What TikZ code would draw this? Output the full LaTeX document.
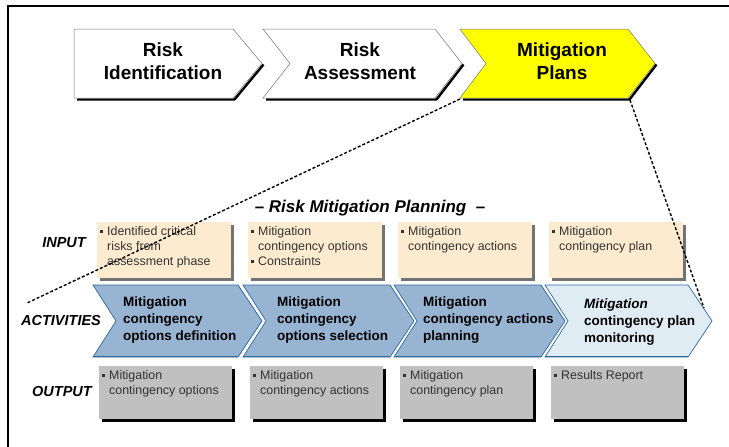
\documentclass[tikz,border=0pt]{standalone}
\usepackage{fontspec}
\setmainfont{Liberation Sans}
\usetikzlibrary{positioning,shadows}
\definecolor{planyellow}{HTML}{FFFF00}
\definecolor{chevblue}{HTML}{98B4D3}
\definecolor{chevlight}{HTML}{E0ECF4}
\definecolor{chevedge}{HTML}{2D6A9E}
\definecolor{inputfill}{HTML}{FCEBCF}
\definecolor{outputfill}{HTML}{C0C0C0}
\newcommand{\bul}{\rule[2.5pt]{3pt}{3pt}}

\begin{document}
\begin{tikzpicture}[x=1pt, y=-1pt,
  topchev/.style={draw=black!55, line width=0.5pt},
  chevshadow/.style={line width=2.4pt, line join=round},
  toptext/.style={align=center, font=\fontsize{19}{23}\selectfont\bfseries},
  acttext/.style={anchor=west, align=left, inner sep=0pt, font=\fontsize{13.5}{17}\selectfont\bfseries},
  rowlabel/.style={font=\fontsize{14.5}{17}\selectfont\bfseries\itshape},
  inbox/.style={fill=inputfill, anchor=north west, minimum width=134pt, minimum height=56pt, inner sep=0pt,
    drop shadow={shadow xshift=3pt, shadow yshift=-3pt, fill=black!55, opacity=1}},
  outbox/.style={fill=outputfill, anchor=north west, minimum width=133pt, minimum height=53pt, inner sep=0pt,
    drop shadow={shadow xshift=3pt, shadow yshift=-3pt, fill=black, opacity=1}},
  boxtext/.style={anchor=north west, inner sep=0pt, text=black!80, font=\fontsize{12.4}{15}\selectfont},
  zoomline/.style={line width=1.4pt, dash pattern=on 3pt off 2pt}]
\useasboundingbox (0,0) rectangle (729,447);
% frame
\draw[line width=2pt] (8,447) -- (8,6) -- (729,6);

% process chevrons
\draw[chevshadow] (77,99.5) -- (234.5,99.5) -- (263.5,64.5);
\draw[topchev, fill=white] (74,29) -- (233,29) -- (262,63.5) -- (233,98) -- (74,98) -- cycle;
\draw[chevshadow] (266,99.5) -- (436.5,99.5) -- (463.5,64.5);
\draw[topchev, fill=white] (263,29) -- (435,29) -- (462,63.5) -- (435,98) -- (263,98) -- (290,63.5) -- cycle;
\draw[chevshadow] (463,99.5) -- (629.5,99.5) -- (656.5,64.5);
\draw[topchev, fill=planyellow] (460,29) -- (628,29) -- (655,63.5) -- (628,98) -- (460,98) -- (486,63.5) -- cycle;
\coordinate (mpBL) at (460,99);
\coordinate (mpBR) at (630,100);
\node[toptext] (riskid) at (163,61.5) {Risk\\Identification};
\node[toptext] (riskas) at (360,61.5) {Risk\\Assessment};
\node[toptext] (mitpl) at (562,61.5) {Mitigation\\Plans};

% title
\node[font=\fontsize{17}{20}\selectfont\bfseries\itshape] (title) at (370,208) {-- Risk Mitigation Planning \ --};

% row labels
\node[rowlabel] (lin) at (64,243) {INPUT};
\node[rowlabel] (lact) at (61,321) {ACTIVITIES};
\node[rowlabel] (lout) at (62,392) {OUTPUT};

% input boxes
\foreach \i/\xl/\txt in {
  1/97/{\bul & Identified critical\\ & risks from\\ & assessment phase},
  2/248/{\bul & Mitigation\\ & contingency options\\ \bul & Constraints},
  3/398/{\bul & Mitigation\\ & contingency actions},
  4/549/{\bul & Mitigation\\ & contingency plan}} {
  \node[inbox] (in\i) at (\xl,222) {};
  \node[boxtext] (in\i t) at (\xl+3,225) {\begin{tabular}{@{}p{7pt}@{}l@{}}\txt\end{tabular}};
}

% activity chevrons
\foreach \i/\xl/\xr/\fc in {1/93/238/chevblue, 2/243/390/chevblue, 3/394/541/chevblue, 4/545/688/chevlight} {
  \draw[white, line width=3pt] (\xl,285) -- (\xr,285) -- ({\xr+24},321) -- (\xr,357) -- (\xl,357) -- ({\xl+23},321) -- cycle;
  \draw[chevedge, line width=0.7pt, fill=\fc] (\xl,285) -- (\xr,285) -- ({\xr+24},321) -- (\xr,357) -- (\xl,357) -- ({\xl+23},321) -- cycle;
  \draw[chevedge, line width=1.8pt] (\xl,356.5) -- (\xr,356.5);
}
\node[acttext] (act1) at (123,320) {Mitigation\\contingency\\options definition};
\node[acttext] (act2) at (277,320) {Mitigation\\contingency\\options selection};
\node[acttext] (act3) at (423,320) {Mitigation\\contingency actions\\planning};
\node[acttext] (act4) at (584,322) {\textit{Mitigation}\\contingency plan\\monitoring};

% output boxes
\foreach \i/\xl/\txt in {
  1/99/{\bul & Mitigation\\ & contingency options},
  2/250/{\bul & Mitigation\\ & contingency actions},
  3/400/{\bul & Mitigation\\ & contingency plan},
  4/551/{\bul & Results Report}} {
  \node[outbox] (out\i) at (\xl,366) {};
  \node[boxtext] (out\i t) at (\xl+3,369) {\begin{tabular}{@{}p{7pt}@{}l@{}}\txt\end{tabular}};
}

% zoom lines
\coordinate (planL) at (27,303);
\coordinate (planR) at (704,308);
\draw[zoomline] (mpBL) -- (planL);
\draw[zoomline] (mpBR) -- (planR);
\end{tikzpicture}
\end{document}
